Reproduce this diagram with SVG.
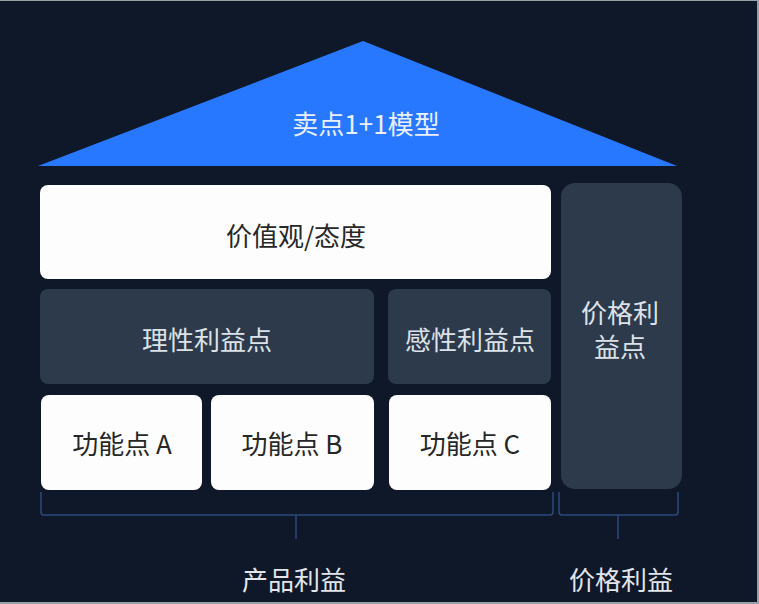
<svg xmlns="http://www.w3.org/2000/svg" width="759" height="604" viewBox="0 0 759 604">
<style>
text{font-family:"Noto Sans CJK SC","Noto Sans",sans-serif;font-size:26px;text-anchor:middle}
.w{fill:#fdfdfd}
.d{fill:#2d3a4b}
.tw{fill:#272727}
.td{fill:#dde2e8}
.br{fill:none;stroke:#2b4a7e;stroke-width:1.5}
</style>
<rect x="0" y="0" width="759" height="604" fill="#9aa0a8"/>
<rect x="0" y="1" width="757" height="601" fill="#0f1829"/>
<g id="roof">
<polygon points="363,41 38,166 677,166" fill="#2878ff"/>
<text x="366" y="134" fill="#eaf0fb" font-size="27">卖点1+1模型</text>
</g>
<g id="values">
<rect class="w" x="40" y="185" width="511" height="94" rx="8"/>
<text class="tw" x="296" y="246">价值观/态度</text>
</g>
<g id="rational">
<rect class="d" x="40" y="289" width="334" height="95" rx="8"/>
<text class="td" x="207" y="350">理性利益点</text>
</g>
<g id="emotional">
<rect class="d" x="388" y="289" width="163" height="95" rx="8"/>
<text class="td" x="470" y="350">感性利益点</text>
</g>
<g id="price">
<rect class="d" x="561" y="183" width="121" height="306" rx="14"/>
<text class="td" font-size="23"><tspan x="620" y="323">价格利</tspan><tspan x="620" y="357">益点</tspan></text>
</g>
<g id="featA">
<rect class="w" x="41" y="395" width="161" height="95" rx="8"/>
<text class="tw" x="122" y="454">功能点 A</text>
</g>
<g id="featB">
<rect class="w" x="211" y="395" width="163" height="95" rx="8"/>
<text class="tw" x="292" y="454">功能点 B</text>
</g>
<g id="featC">
<rect class="w" x="389" y="395" width="162" height="95" rx="8"/>
<text class="tw" x="470" y="454">功能点 C</text>
</g>
<g id="connectors">
<path class="br" d="M41,492 V512 Q41,515 44,515 H550 Q553,515 553,512 V492"/>
<path class="br" d="M296,515 V539"/>
<path class="br" d="M559,492 V512 Q559,515 562,515 H675 Q678,515 678,512 V492"/>
<path class="br" d="M618,515 V539"/>
</g>
<g id="labels">
<text x="294" y="590" fill="#e2e5ea" font-size="29">产品利益</text>
<text x="621" y="590" fill="#e2e5ea" font-size="29">价格利益</text>
</g>
</svg>
